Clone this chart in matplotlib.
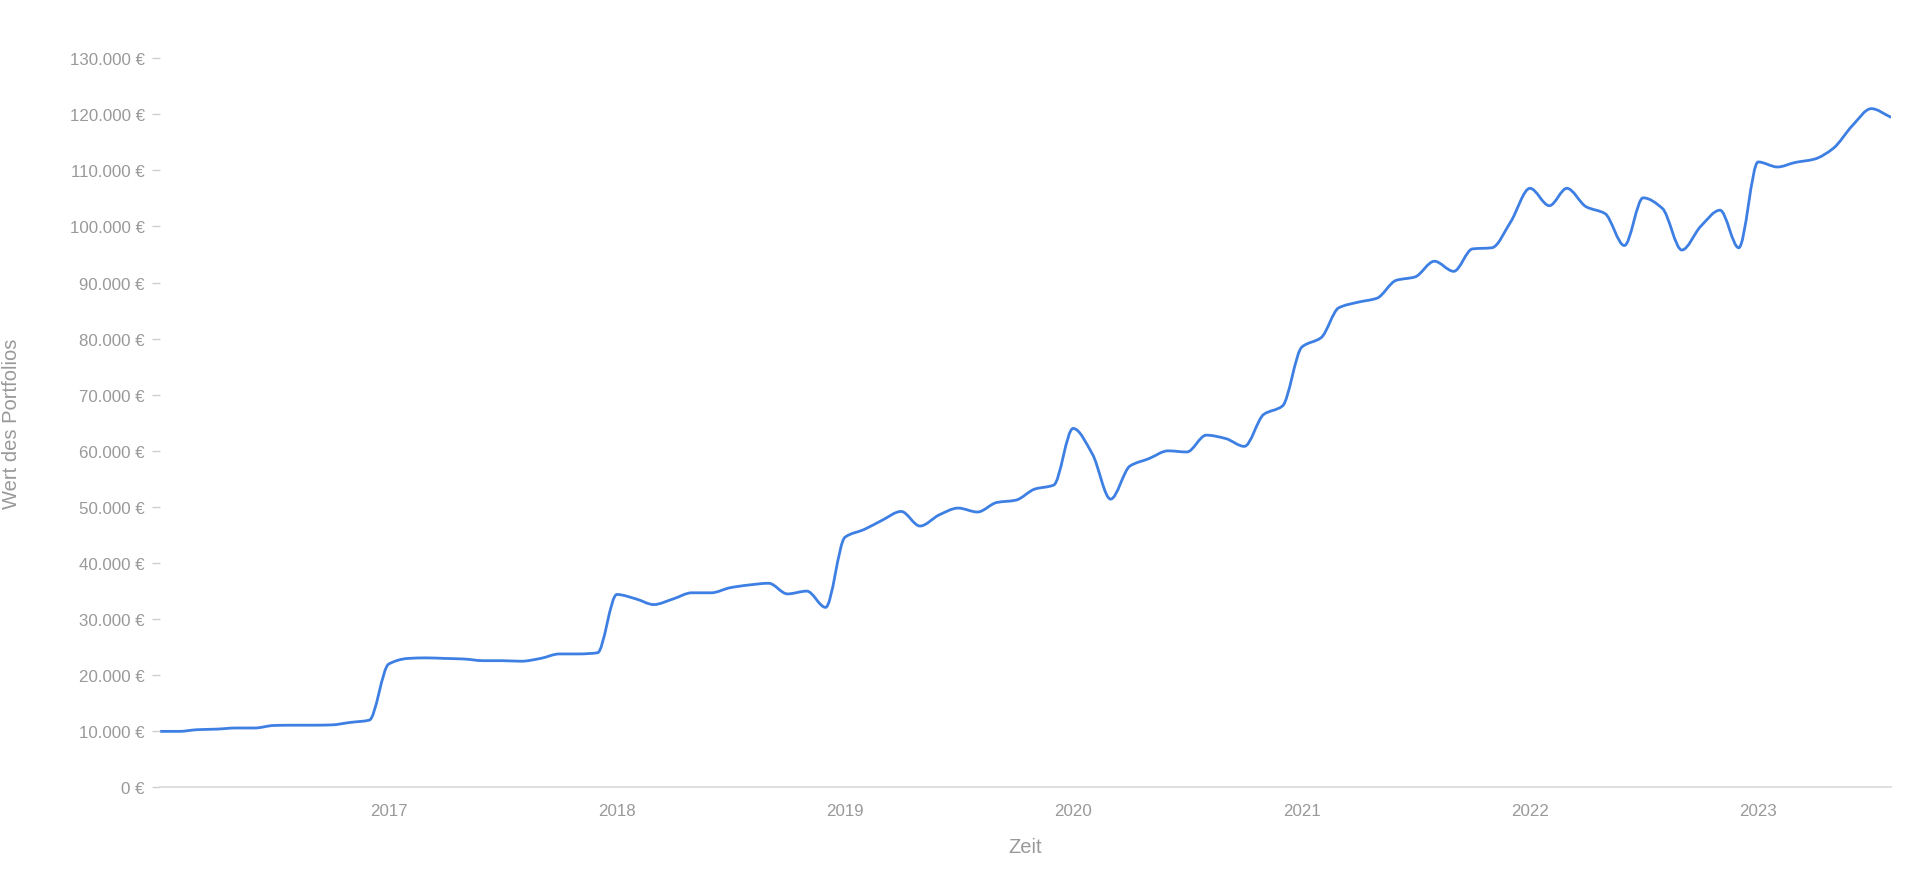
import numpy as np
import pandas as pd
import matplotlib
matplotlib.use("Agg")
import matplotlib.pyplot as plt
import matplotlib.dates as mdates
from matplotlib.path import Path
from matplotlib.patches import PathPatch
from matplotlib.ticker import FuncFormatter

plt.rcParams['font.family'] = ['Liberation Sans', 'DejaVu Sans']

# Monatswerte des Portfolios (in Tausend Euro), Jan 2016 bis Aug 2023
start = "2016-01-01"
werte_tsd = [
    10.0, 10.0, 10.3, 10.4, 10.6, 10.6, 11.05, 11.1, 11.1, 11.15, 11.6, 12.0,
    22.0, 23.0, 23.1, 23.0, 22.9, 22.6, 22.6, 22.5, 23.0, 23.8, 23.8, 24.0,
    34.4, 33.6, 32.6, 33.6, 34.7, 34.7, 35.6, 36.1, 36.4, 34.5, 35.0, 32.1,
    44.6, 46.0, 47.6, 49.2, 46.6, 48.6, 49.8, 49.1, 50.8, 51.2, 53.2, 53.9,
    64.0, 59.4, 51.4, 57.3, 58.6, 60.0, 59.8, 62.8, 62.2, 60.8, 66.5, 68.0,
    78.5, 80.2, 85.5, 86.5, 87.2, 90.4, 91.0, 93.8, 92.0, 96.0, 96.2, 100.8,
    106.8, 103.7, 106.8, 103.5, 102.3, 96.6, 105.1, 103.2, 95.8, 100.0, 102.9, 96.2,
    111.5, 110.6, 111.4, 112.0, 113.9, 118.0, 121.0, 119.5,
]
jahre = [2017, 2018, 2019, 2020, 2021, 2022, 2023]
y_ticks = list(range(0, 130001, 10000))

daten = pd.date_range(start, periods=len(werte_tsd), freq="MS")
x = mdates.date2num(daten.to_pydatetime())
y = np.array(werte_tsd) * 1000

grau = "#999999"
blau = "#3d7fe3"

fig = plt.figure(figsize=(19.2, 8.79), dpi=100)
ax = fig.add_axes([0.0833, 0.103, 0.9014, 0.8297])

# glatte Kurve ohne Ueberschwingen (monotone Hermite -> Bezier)
h = np.diff(x)
delta = np.diff(y) / h
d = np.zeros(len(x))
d[0] = delta[0]
d[-1] = delta[-1]
for k in range(1, len(x) - 1):
    if delta[k - 1] * delta[k] > 0:
        w1 = 2 * h[k] + h[k - 1]
        w2 = h[k] + 2 * h[k - 1]
        d[k] = (w1 + w2) / (w1 / delta[k - 1] + w2 / delta[k])
verts = [(x[0], y[0])]
codes = [Path.MOVETO]
for k in range(len(x) - 1):
    verts += [(x[k] + h[k] / 3, y[k] + d[k] * h[k] / 3),
              (x[k + 1] - h[k] / 3, y[k + 1] - d[k + 1] * h[k] / 3),
              (x[k + 1], y[k + 1])]
    codes += [Path.CURVE4] * 3
ax.add_patch(PathPatch(Path(verts, codes), fill=False, edgecolor=blau,
                       linewidth=2.0, capstyle="round", joinstyle="round"))

ax.set_xlim(x[0], x[-1])
ax.set_ylim(0, 130000)

ax.set_yticks(y_ticks)
ax.yaxis.set_major_formatter(FuncFormatter(
    lambda v, p: "{:,.0f} €".format(v).replace(",", ".")))
ax.set_xticks(mdates.date2num([pd.Timestamp(f"{j}-01-01") for j in jahre]))
ax.set_xticklabels([str(j) for j in jahre])

for s in ["top", "right", "left"]:
    ax.spines[s].set_visible(False)
ax.spines["bottom"].set_color("#d9d9d9")
ax.spines["bottom"].set_linewidth(1.2)

ax.tick_params(axis="y", colors="#d0d0d0", labelcolor=grau, labelsize=12.2,
               length=6, width=1, pad=5)
ax.tick_params(axis="x", length=0, labelcolor=grau, labelsize=12.2, pad=11)

ax.set_xlabel("Zeit", color=grau, fontsize=14.5, labelpad=14)
ax.set_ylabel("Wert des Portfolios", color=grau, fontsize=14.5)
ax.yaxis.set_label_coords(-0.0805, 0.5)

fig.savefig("out.png", dpi=100)
